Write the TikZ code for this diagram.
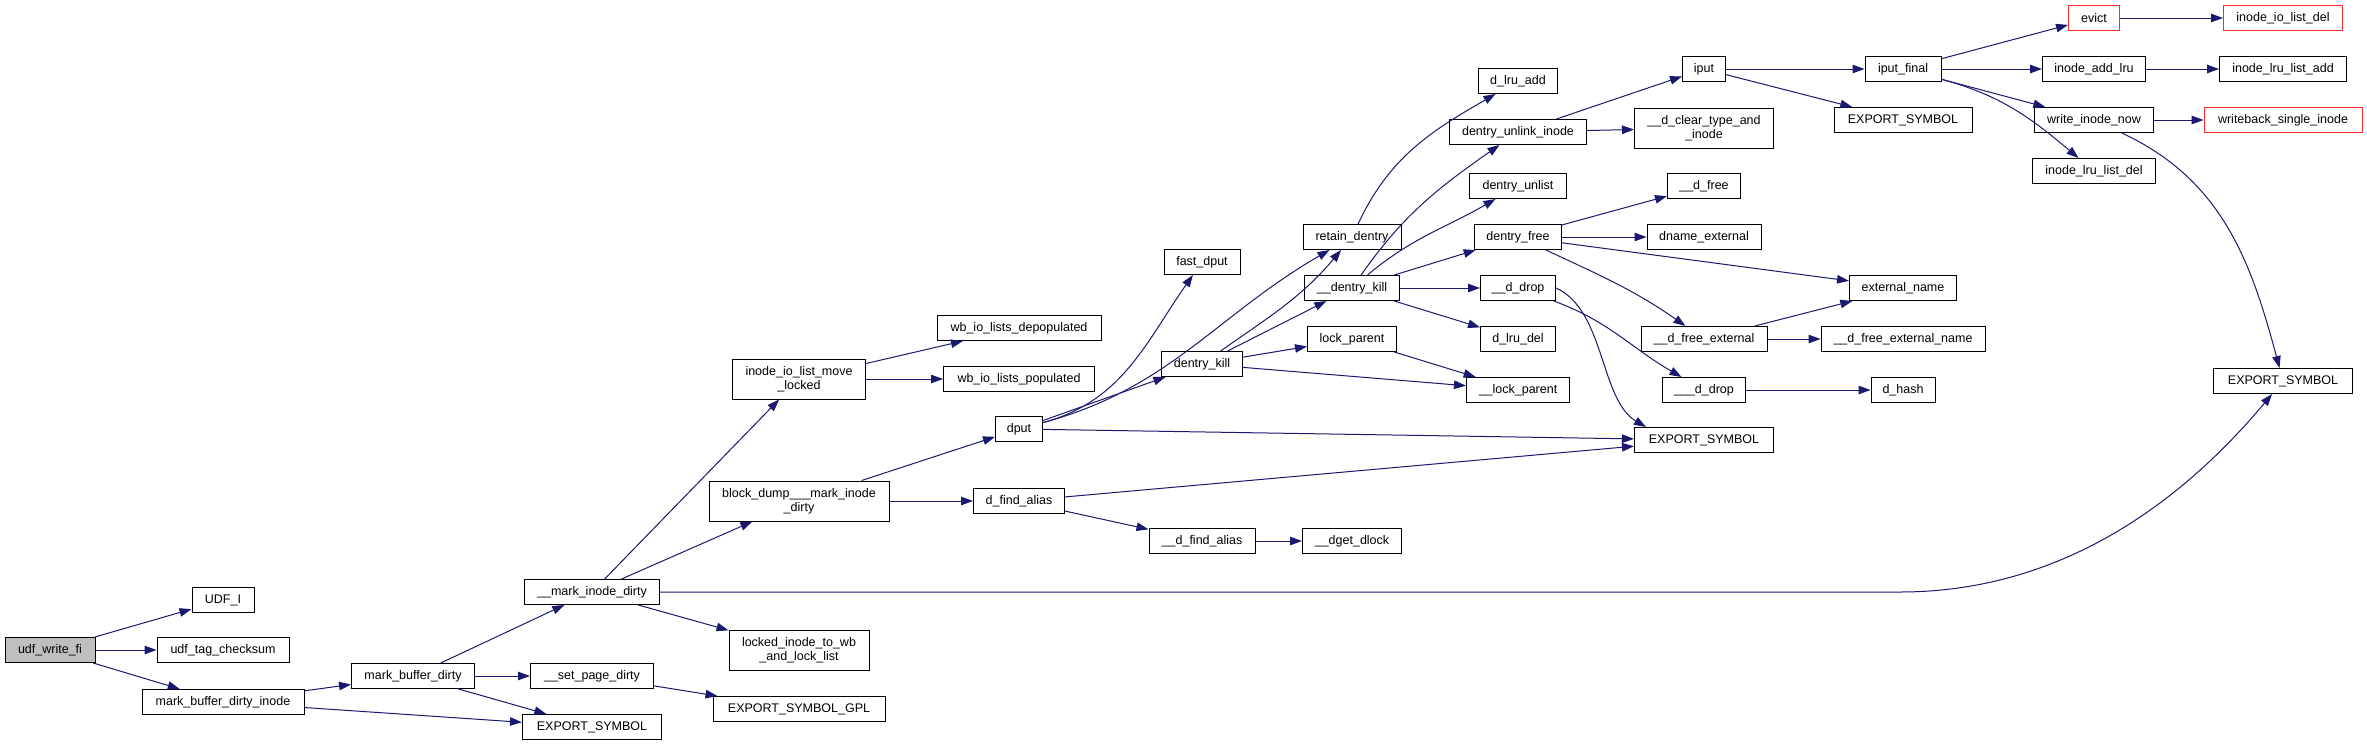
\documentclass[tikz,border=0pt]{standalone}
\usepackage{fontspec}
\setmainfont{Liberation Sans}
\usepackage{tikz}
\usetikzlibrary{arrows.meta}
\definecolor{edgeBlue}{RGB}{25,25,112}
\definecolor{rootGray}{RGB}{191,191,191}
\definecolor{missRed}{RGB}{255,40,40}

\begin{document}
\begin{tikzpicture}[
  x=1pt,y=-1pt,
  >={Triangle[length=12pt,width=8.5pt]},
  fn/.style={draw=black,line width=1pt,fill=white,minimum height=25pt,inner sep=2pt,align=center,font=\fontsize{12.5}{14}\selectfont},
  two/.style={fn,minimum height=40pt},
  hit/.style={fn,fill=rootGray},
  warn/.style={fn,draw=missRed},
  call/.style={->,draw=edgeBlue,line width=1pt}
]
  \useasboundingbox[fill=white] (0,0) rectangle (2367,745);

  % caller side
  \node[hit,minimum width=90] (udfWriteFi) at (50,650) {udf\_write\_fi};
  \node[fn,minimum width=62] (udfI) at (223,600) {UDF\_I};
  \node[fn,minimum width=132] (udfTagChecksum) at (223,650) {udf\_tag\_checksum};
  \node[fn,minimum width=162] (mbdInode) at (223,702) {mark\_buffer\_dirty\_inode};
  \node[fn,minimum width=123] (mbDirty) at (413,676) {mark\_buffer\_dirty};
  \node[fn,minimum width=135] (markInodeDirty) at (592,592) {\_\_mark\_inode\_dirty};
  \node[fn,minimum width=123] (setPageDirty) at (592,676) {\_\_set\_page\_dirty};
  \node[fn,minimum width=139] (expSymA) at (592,727) {EXPORT\_SYMBOL};
  \node[two,minimum width=133] (ioListMove) at (799,379) {inode\_io\_list\_move\\\_locked};
  \node[two,minimum width=180] (blockDump) at (799,501) {block\_dump\_\_\_mark\_inode\\\_dirty};
  \node[two,minimum width=140] (lockedInode) at (799,650) {locked\_inode\_to\_wb\\\_and\_lock\_list};
  \node[fn,minimum width=172] (expSymGpl) at (799,709) {EXPORT\_SYMBOL\_GPL};

  % dentry side
  \node[fn,minimum width=164] (wbDepop) at (1019,328) {wb\_io\_lists\_depopulated};
  \node[fn,minimum width=151] (wbPop) at (1019,379) {wb\_io\_lists\_populated};
  \node[fn,minimum width=47] (dput) at (1019,429) {dput};
  \node[fn,minimum width=91] (dFindAlias) at (1019,501) {d\_find\_alias};
  \node[fn,minimum width=76] (fastDput) at (1202,262) {fast\_dput};
  \node[fn,minimum width=81] (dentryKill) at (1202,364) {dentry\_kill};
  \node[fn,minimum width=106] (dFindAliasU) at (1202,541) {\_\_d\_find\_alias};
  \node[fn,minimum width=98] (retainDentry) at (1352,237) {retain\_dentry};
  \node[fn,minimum width=95] (dentryKillU) at (1352,288) {\_\_dentry\_kill};
  \node[fn,minimum width=89] (lockParent) at (1352,339) {lock\_parent};
  \node[fn,minimum width=99] (dgetDlock) at (1352,541) {\_\_dget\_dlock};
  \node[fn,minimum width=79] (dLruAdd) at (1518,81) {d\_lru\_add};
  \node[fn,minimum width=137] (unlinkInode) at (1518,132) {dentry\_unlink\_inode};
  \node[fn,minimum width=97] (dentryUnlist) at (1518,186) {dentry\_unlist};
  \node[fn,minimum width=87] (dentryFree) at (1518,237) {dentry\_free};
  \node[fn,minimum width=75] (dDropU) at (1518,288) {\_\_d\_drop};
  \node[fn,minimum width=75] (dLruDel) at (1518,339) {d\_lru\_del};
  \node[fn,minimum width=103] (lockParentU) at (1518,390) {\_\_lock\_parent};
  \node[fn,minimum width=43] (iput) at (1704,69) {iput};
  \node[two,minimum width=139] (clearType) at (1704,128) {\_\_d\_clear\_type\_and\\\_inode};
  \node[fn,minimum width=73] (dFreeU) at (1704,186) {\_\_d\_free};
  \node[fn,minimum width=114] (dnameExternal) at (1704,237) {dname\_external};
  \node[fn,minimum width=126] (dFreeExternal) at (1704,339) {\_\_d\_free\_external};
  \node[fn,minimum width=83] (dDropUU) at (1704,390) {\_\_\_d\_drop};
  \node[fn,minimum width=139] (expSymB) at (1704,440) {EXPORT\_SYMBOL};

  % inode side
  \node[fn,minimum width=76] (iputFinal) at (1903,69) {iput\_final};
  \node[fn,minimum width=138] (expSymC) at (1903,120) {EXPORT\_SYMBOL};
  \node[fn,minimum width=107] (externalName) at (1903,288) {external\_name};
  \node[fn,minimum width=164] (dFreeExtName) at (1903,339) {\_\_d\_free\_external\_name};
  \node[fn,minimum width=64] (dHash) at (1903,390) {d\_hash};
  \node[warn,minimum width=51] (evict) at (2094,18) {evict};
  \node[fn,minimum width=103] (addLru) at (2094,69) {inode\_add\_lru};
  \node[fn,minimum width=119] (writeInodeNow) at (2094,120) {write\_inode\_now};
  \node[fn,minimum width=123] (lruListDel) at (2094,171) {inode\_lru\_list\_del};
  \node[warn,minimum width=119] (ioListDel) at (2283,18) {inode\_io\_list\_del};
  \node[fn,minimum width=127] (lruListAdd) at (2283,69) {inode\_lru\_list\_add};
  \node[warn,minimum width=158] (writebackSingle) at (2283,120) {writeback\_single\_inode};
  \node[fn,minimum width=139] (expSymD) at (2283,381) {EXPORT\_SYMBOL};

  % straight calls
  \foreach \a/\b in {udfWriteFi/udfI,udfWriteFi/udfTagChecksum,udfWriteFi/mbdInode,
      mbdInode/mbDirty,mbdInode/expSymA,mbDirty/markInodeDirty,mbDirty/setPageDirty,mbDirty/expSymA,
      setPageDirty/expSymGpl,markInodeDirty/ioListMove,markInodeDirty/blockDump,markInodeDirty/lockedInode,
      ioListMove/wbDepop,ioListMove/wbPop,blockDump/dput,blockDump/dFindAlias,
      dput/dentryKill,dput/expSymB,dFindAlias/expSymB,dFindAlias/dFindAliasU,dFindAliasU/dgetDlock,
      dentryKill/dentryKillU,dentryKill/lockParent,dentryKill/lockParentU,lockParent/lockParentU,
      dentryKillU/dentryFree,dentryKillU/dDropU,dentryKillU/dLruDel,
      unlinkInode/iput,unlinkInode/clearType,dentryFree/dFreeU,dentryFree/dnameExternal,dentryFree/externalName,
      dFreeExternal/externalName,dFreeExternal/dFreeExtName,dDropUU/dHash,
      iput/iputFinal,iput/expSymC,iputFinal/evict,iputFinal/addLru,iputFinal/writeInodeNow,
      evict/ioListDel,addLru/lruListAdd,writeInodeNow/writebackSingle} {
    \draw[call] (\a) -- (\b);
  }

  % bent calls
  \draw[call] (dput) to[out=15,in=-125] (fastDput);
  \draw[call] (dput) to[out=15,in=-150] (retainDentry);
  \draw[call] (dentryKill) to[out=35,in=-130] (retainDentry);
  \draw[call] (retainDentry) to[out=65,in=-150] (dLruAdd);
  \draw[call] (dentryKillU) to[out=55,in=-145] (unlinkInode);
  \draw[call] (dentryKillU) to[out=40,in=-150] (dentryUnlist);
  \draw[call] (dentryFree) to[out=-25,in=145] (dFreeExternal);
  \draw[call] (dDropU) to[out=-20,in=150] (dDropUU);
  \draw[call] (dDropU.east) .. controls (1605,310) and (1600,400) .. ([xshift=12pt]expSymB.north west);
  \draw[call] (iputFinal) to[out=-15,in=140] (lruListDel);
  \draw[call] (writeInodeNow) to[out=-25,in=105] (expSymD);
  \draw[call] (markInodeDirty.east) -- (1900,592) .. controls (2080,592) and (2200,480) .. (expSymD);
\end{tikzpicture}
\end{document}
